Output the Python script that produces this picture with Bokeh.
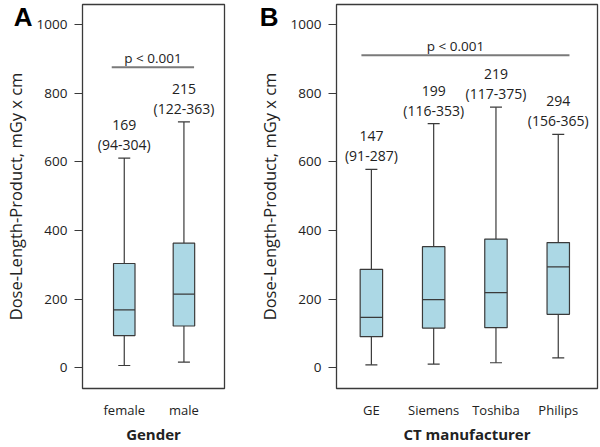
from bokeh.plotting import figure
from bokeh.layouts import row
from bokeh.models import Range1d, FixedTicker, LinearAxis
from bokeh.embed import file_html
from bokeh.resources import INLINE
from bokeh.core.properties import value

# ---- data ----
gender_groups = ["female", "male"]
gender_lower = [7, 17]
gender_q1 = [94, 122]
gender_median = [169, 215]
gender_q3 = [304, 363]
gender_upper = [611, 716]

ct_groups = ["GE", "Siemens", "Toshiba", "Philips"]
ct_lower = [9, 11, 15, 29]
ct_q1 = [91, 116, 117, 156]
ct_median = [147, 199, 219, 294]
ct_q3 = [287, 353, 375, 365]
ct_upper = [578, 711, 759, 680]

y_ticks = [0, 200, 400, 600, 800, 1000]
p_text = "p < 0.001"
gender_pbar = [0.79, 2.17, 875]
ct_pbar = [0.84, 4.18, 910]

FONT = "Open Sans"
LINE = "#3a3a3a"
FILL = "#acd8e5"
TXT = "#222222"
H = 447
TOP = 4
BOTTOM = 59


def panel(groups, lower, q1, med, q3, upper, xr, width, mbl, mbr,
          xlabel, letter, letter_standoff, pbar, ptext_x):
    pos = list(range(1, len(groups) + 1))
    p = figure(width=width, height=H, x_range=Range1d(*xr),
               y_range=Range1d(-60, 1058), output_backend="svg",
               toolbar_location=None, min_border_top=TOP,
               min_border_bottom=BOTTOM,
               min_border_left=mbl, min_border_right=mbr)
    p.grid.visible = False
    p.outline_line_color = LINE
    p.outline_line_width = 1.3
    p.outline_line_alpha = 1

    ya = p.yaxis[0]
    ya.ticker = FixedTicker(ticks=y_ticks, minor_ticks=[])
    ya.major_tick_out = 8
    ya.major_tick_in = 0
    ya.minor_tick_out = 0
    ya.minor_tick_in = 0
    ya.axis_line_color = None
    ya.major_tick_line_color = LINE
    ya.major_tick_line_width = 1.2
    ya.major_label_text_font = FONT
    ya.major_label_text_font_size = "13.5px"
    ya.major_label_text_color = TXT
    ya.major_label_standoff = 7
    ya.axis_label = "Dose-Length-Product, mGy x cm"
    ya.axis_label_text_font = FONT
    ya.axis_label_text_font_size = "16.5px"
    ya.axis_label_text_font_style = "normal"
    ya.axis_label_text_color = TXT
    ya.axis_label_standoff = 7

    # panel letter, drawn as the label of an extra, otherwise empty left axis
    la = LinearAxis(ticker=FixedTicker(ticks=[1030], minor_ticks=[]),
                    major_label_overrides={1030: letter},
                    major_tick_out=0, major_tick_in=0,
                    minor_tick_out=0, minor_tick_in=0,
                    axis_line_color=None, major_tick_line_color=None,
                    minor_tick_line_color=None,
                    major_label_standoff=letter_standoff,
                    major_label_text_font="Liberation Sans",
                    major_label_text_font_style="bold",
                    major_label_text_font_size="26px",
                    major_label_text_color="#000000")
    p.add_layout(la, "left")

    xa = p.xaxis[0]
    xa.ticker = FixedTicker(ticks=pos, minor_ticks=[])
    xa.major_label_overrides = {i: g for i, g in zip(pos, groups)}
    xa.major_tick_out = 0
    xa.major_tick_in = 0
    xa.minor_tick_out = 0
    xa.minor_tick_in = 0
    xa.axis_line_color = None
    xa.major_label_text_font = FONT
    xa.major_label_text_font_size = "13px"
    xa.major_label_text_color = TXT
    xa.major_label_standoff = 12
    xa.axis_label = xlabel
    xa.axis_label_text_font = FONT
    xa.axis_label_text_font_size = "15px"
    xa.axis_label_text_font_style = "bold"
    xa.axis_label_text_color = TXT
    xa.axis_label_standoff = 2

    bw = 0.36
    p.segment(x0=pos, y0=q3, x1=pos, y1=upper, line_color=LINE, line_width=1.2)
    p.segment(x0=pos, y0=q1, x1=pos, y1=lower, line_color=LINE, line_width=1.2)
    p.scatter(x=pos, y=upper, marker="dash", size=12, line_color=LINE, line_width=1.2)
    p.scatter(x=pos, y=lower, marker="dash", size=12, line_color=LINE, line_width=1.2)
    p.vbar(x=pos, width=bw, bottom=q1, top=q3, fill_color=FILL,
           line_color=LINE, line_width=1.2)
    p.segment(x0=[x - bw / 2 for x in pos], y0=med, x1=[x + bw / 2 for x in pos],
              y1=med, line_color=LINE, line_width=1.2)

    p.text(x=pos, y=upper, text=[str(m) for m in med], y_offset=-33,
           text_align="center", text_baseline="middle", text_font=value(FONT),
           text_font_size="14px", text_color=TXT)
    p.text(x=pos, y=upper, text=[f"({a}-{b})" for a, b in zip(q1, q3)],
           y_offset=-13.5, text_align="center", text_baseline="middle",
           text_font=value(FONT), text_font_size="14px", text_color=TXT)

    p.segment(x0=[pbar[0]], y0=[pbar[2]], x1=[pbar[1]], y1=[pbar[2]],
              line_color="#7a7a7a", line_width=2)
    p.text(x=[ptext_x], y=[pbar[2]], text=[p_text], y_offset=-9,
           text_align="center", text_baseline="alphabetic",
           text_font=value(FONT), text_font_size="13.5px", text_color=TXT)
    return p


pa = panel(gender_groups, gender_lower, gender_q1, gender_median, gender_q3,
           gender_upper, (0.3, 2.68), 251, 78, 27, "Gender", "A", -32,
           gender_pbar, (gender_pbar[0] + gender_pbar[1]) / 2)
pb = panel(ct_groups, ct_lower, ct_q1, ct_median, ct_q3, ct_upper,
           (0.44, 4.63), 349, 85, 3, "CT manufacturer", "B", -24,
           ct_pbar, 2.35)

layout = row(pa, pb)
open("out.html", "w").write(file_html(layout, INLINE))
